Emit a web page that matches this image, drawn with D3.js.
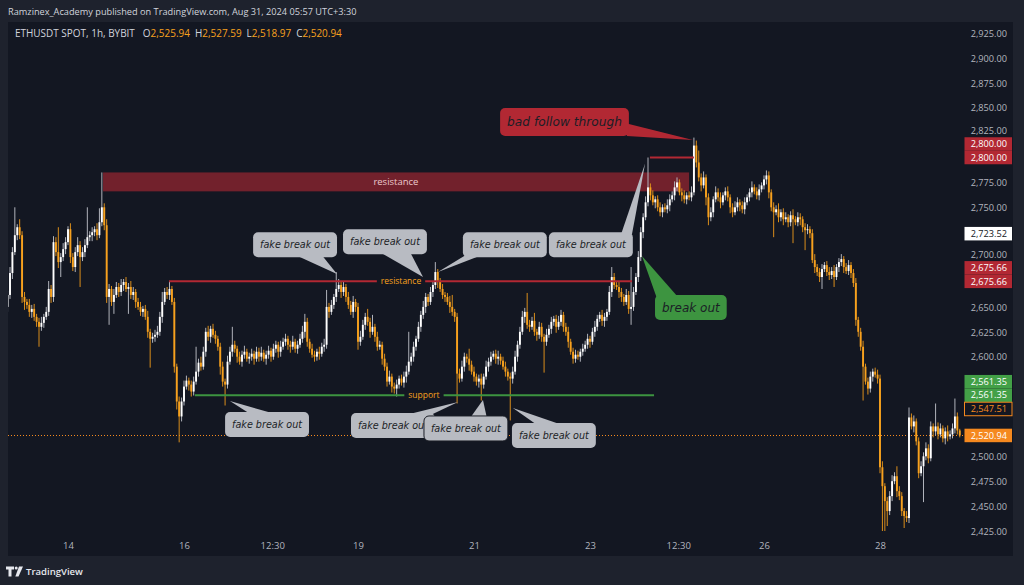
<!DOCTYPE html>
<html>
<head>
<meta charset="utf-8">
<script src="https://cdn.jsdelivr.net/npm/d3@7"></script>
<style>
  html, body { margin: 0; padding: 0; background: #1e222d; }
  svg { display: block; font-family: "Open Sans", sans-serif; }
</style>
</head>
<body>
<svg id="chart" width="1024" height="585"></svg>
<script>
const title = 'Ramzinex_Academy published on TradingView.com, Aug 31, 2024 05:57 UTC+3:30';
const symbol = 'ETHUSDT SPOT, 1h, BYBIT';
const ohlcLast = [['O', '2,525.94'], ['H', '2,527.59'], ['L', '2,518.97'], ['C', '2,520.94']];

// hourly candles, first one opens Aug 12 23:00
const firstCandle = Date.UTC(2024, 7, 12, 23);
const firstOpen = 2650;
const closes = [
  2662, 2684, 2705, 2722, 2730, 2722, 2660, 2655, 2652, 2645,
  2648, 2640, 2635, 2630, 2634, 2640, 2645, 2668, 2660, 2715,
  2705, 2695, 2700, 2708, 2715, 2728, 2700, 2690, 2705, 2712,
  2700, 2705, 2712, 2720, 2722, 2725, 2728, 2722, 2735, 2750,
  2732, 2660, 2668, 2655, 2662, 2670, 2665, 2672, 2675, 2668,
  2670, 2662, 2665, 2655, 2650, 2645, 2648, 2640, 2625, 2618,
  2620, 2622, 2625, 2640, 2655, 2665, 2662, 2668, 2655, 2590,
  2555, 2540, 2555, 2570, 2576, 2572, 2565, 2575, 2585, 2594,
  2590, 2605, 2625, 2620, 2628, 2622, 2618, 2610, 2590, 2575,
  2572, 2595, 2605, 2612, 2608, 2600, 2595, 2602, 2605, 2598,
  2600, 2603, 2598, 2605, 2600, 2604, 2598, 2602, 2606, 2600,
  2608, 2612, 2605, 2610, 2615, 2618, 2612, 2610, 2615, 2608,
  2612, 2618, 2625, 2635, 2615, 2608, 2602, 2600, 2605, 2603,
  2610, 2612, 2650, 2645, 2652, 2660, 2668, 2672, 2665, 2670,
  2660, 2652, 2645, 2655, 2650, 2615, 2620, 2632, 2640, 2635,
  2625, 2630, 2620, 2610, 2612, 2598, 2590, 2575, 2580, 2570,
  2568, 2572, 2578, 2574, 2580, 2585, 2595, 2600, 2610, 2618,
  2630, 2642, 2650, 2660, 2655, 2665, 2672, 2685, 2675, 2668,
  2662, 2660, 2655, 2650, 2645, 2640, 2583, 2578, 2590, 2600,
  2598, 2592, 2585, 2580, 2575, 2578, 2572, 2580, 2590, 2595,
  2600, 2603, 2598, 2600, 2596, 2590, 2585, 2580, 2578, 2585,
  2600, 2612, 2625, 2640, 2645, 2632, 2630, 2636, 2625, 2622,
  2630, 2620, 2615, 2622, 2628, 2635, 2638, 2630, 2635, 2642,
  2630, 2625, 2615, 2605, 2598, 2602, 2600, 2605, 2608, 2612,
  2618, 2615, 2625, 2630, 2638, 2642, 2636, 2640, 2645, 2665,
  2680, 2672, 2670, 2665, 2660, 2655, 2662, 2648, 2650, 2665,
  2680, 2700, 2725, 2740, 2755, 2770, 2762, 2755, 2758, 2750,
  2745, 2750, 2748, 2752, 2758, 2762, 2770, 2775, 2765, 2762,
  2758, 2762, 2760, 2765, 2812, 2795, 2780, 2772, 2780, 2760,
  2740, 2745, 2758, 2765, 2760, 2755, 2762, 2766, 2760, 2750,
  2745, 2750, 2755, 2752, 2748, 2755, 2760, 2765, 2770, 2766,
  2762, 2768, 2772, 2778, 2782, 2765, 2750, 2745, 2748, 2740,
  2745, 2738, 2740, 2735, 2742, 2738, 2735, 2740, 2738, 2730,
  2727, 2728, 2724, 2697, 2690, 2685, 2680, 2688, 2692, 2685,
  2682, 2686, 2680, 2690, 2695, 2698, 2690, 2686, 2692, 2684,
  2674, 2637, 2625, 2610, 2590, 2575, 2568, 2580, 2585, 2582,
  2578, 2489, 2470, 2455, 2445, 2460, 2475, 2480, 2465, 2460,
  2445, 2440, 2438, 2539, 2530, 2535, 2515, 2483, 2490, 2500,
  2508, 2498, 2530, 2525, 2530, 2522, 2528, 2518, 2525, 2520,
  2522, 2528, 2540, 2525.94, 2520.94
];
// wick length above / below the body, per candle
const upWick = [
  4, 6, 5, 28, 3, 8, 4, 5, 3, 6,   4, 5, 3, 4, 6, 3, 5, 8, 4, 6,
  5, 25, 4, 6, 5, 3, 6, 4, 5, 8,   4, 5, 6, 30, 4, 5, 3, 6, 14, 35,
  4, 6, 5, 3, 6, 5, 4, 6, 3, 5,    4, 6, 5, 3, 4, 5, 3, 4, 6, 3,
  4, 5, 6, 5, 10, 4, 5, 8, 3, 4,   3, 5, 4, 6, 5, 3, 4, 5, 25, 4,
  6, 5, 4, 6, 3, 5, 4, 3, 4, 5,    3, 6, 5, 18, 4, 3, 5, 4, 6, 3,
  4, 5, 3, 5, 4, 6, 3, 4, 5, 3,    5, 4, 3, 6, 4, 5, 3, 4, 6, 3,
  4, 5, 6, 8, 4, 3, 5, 4, 3, 5,    4, 6, 17, 4, 5, 3, 17, 6, 4, 5,
  3, 5, 4, 6, 3, 4, 6, 5, 4, 8,    4, 12, 3, 5, 4, 3, 5, 4, 6, 3,
  4, 5, 3, 4, 5, 6, 30, 4, 5, 3,   5, 4, 6, 4, 3, 5, 4, 10, 3, 4,
  5, 3, 4, 6, 12, 3, 4, 5, 6, 4,   3, 10, 4, 5, 3, 4, 5, 3, 6, 4,
  5, 3, 4, 6, 3, 4, 5, 3, 4, 5,    6, 4, 5, 6, 4, 19, 5, 4, 8, 3,
  5, 4, 3, 6, 4, 5, 3, 4, 6, 5,    3, 4, 5, 3, 4, 5, 4, 3, 5, 4,
  5, 3, 4, 6, 4, 3, 5, 4, 3, 6,    10, 4, 3, 5, 4, 3, 6, 4, 40, 5,
  4, 6, 5, 4, 6, 30, 4, 5, 3, 4,   5, 3, 4, 6, 5, 4, 6, 5, 3, 4,
  5, 3, 4, 6, 8, 5, 12, 4, 6, 3,   4, 5, 3, 6, 4, 5, 3, 4, 5, 3,
  4, 6, 5, 3, 4, 5, 3, 4, 6, 3,    4, 5, 3, 4, 5, 4, 3, 5, 4, 6,
  3, 4, 5, 3, 4, 6, 3, 5, 4, 3,    4, 5, 3, 4, 6, 3, 4, 5, 3, 4,
  5, 4, 6, 3, 4, 5, 3, 4, 5, 3,    4, 5, 3, 4, 6, 3, 4, 5, 3, 4,
  5, 4, 6, 3, 4, 5, 6, 4, 10, 5,   4, 3, 5, 10, 4, 6, 3, 4, 5, 4,
  6, 4, 5, 3, 23, 4, 5, 3, 4, 6,   4, 5, 18, 4, 1.65
];
const downWick = [
  5, 4, 6, 3, 5, 4, 6, 8, 4, 5,    6, 4, 5, 20, 4, 5, 3, 4, 6, 5,
  4, 6, 15, 4, 5, 3, 6, 4, 5, 4,   30, 4, 5, 3, 4, 6, 4, 5, 3, 4,
  5, 6, 28, 4, 12, 3, 5, 4, 6, 3,  25, 4, 5, 6, 3, 4, 5, 3, 6, 29,
  4, 5, 3, 4, 6, 3, 4, 5, 3, 6,    8, 26, 5, 4, 3, 6, 5, 4, 3, 5,
  4, 3, 5, 4, 6, 3, 5, 4, 8, 5,    21, 4, 3, 5, 4, 6, 3, 5, 4, 3,
  5, 4, 6, 3, 5, 4, 3, 6, 4, 5,    3, 4, 6, 5, 3, 4, 5, 6, 3, 4,
  5, 3, 4, 6, 5, 4, 3, 5, 4, 6,    3, 5, 4, 6, 3, 4, 5, 3, 6, 4,
  5, 4, 3, 6, 5, 8, 4, 3, 5, 4,    6, 3, 5, 4, 3, 6, 4, 5, 3, 6,
  5, 8, 4, 3, 5, 6, 3, 4, 5, 4,    3, 5, 4, 6, 4, 3, 5, 4, 6, 3,
  4, 5, 3, 6, 4, 5, 30, 4, 3, 5,   4, 6, 3, 5, 4, 6, 16, 4, 3, 5,
  4, 3, 5, 6, 4, 3, 5, 4, 42, 5,   3, 5, 4, 3, 6, 4, 5, 3, 4, 6,
  4, 5, 31, 4, 3, 5, 4, 6, 3, 4,   5, 4, 6, 3, 5, 4, 3, 5, 4, 3,
  4, 6, 3, 5, 4, 3, 5, 6, 4, 3,    5, 4, 3, 6, 5, 4, 3, 5, 16, 4,
  3, 5, 4, 6, 3, 4, 5, 3, 6, 4,    4, 5, 3, 4, 6, 3, 5, 4, 3, 6,
  4, 5, 3, 4, 3, 5, 4, 6, 3, 8,    8, 4, 5, 3, 4, 6, 3, 5, 4, 6,
  5, 3, 4, 6, 4, 5, 3, 4, 5, 3,    4, 5, 3, 4, 5, 6, 4, 25, 3, 5,
  4, 6, 3, 5, 4, 24, 3, 4, 6, 5,   20, 4, 5, 3, 6, 4, 5, 12, 3, 4,
  5, 4, 10, 3, 5, 4, 6, 3, 4, 5,   4, 6, 5, 4, 34, 3, 6, 4, 5, 3,
  5, 6, 45, 30, 15, 4, 5, 3, 6, 4, 5, 12, 4, 5, 3, 6, 4, 5, 3, 36,
  4, 5, 3, 6, 4, 5, 3, 4, 6, 5,    3, 4, 5, 4, 1.97
];

const priceTicks = [2425, 2450, 2475, 2500, 2525, 2550, 2575, 2600, 2625, 2650, 2675, 2700,
  2725, 2750, 2775, 2800, 2825, 2850, 2875, 2900, 2925];
const timeTicks = [Date.UTC(2024, 7, 14), Date.UTC(2024, 7, 16), Date.UTC(2024, 7, 17, 12, 30),
  Date.UTC(2024, 7, 19), Date.UTC(2024, 7, 21), Date.UTC(2024, 7, 23), Date.UTC(2024, 7, 24, 12, 30),
  Date.UTC(2024, 7, 26), Date.UTC(2024, 7, 28)];
const timeTickLabels = ['14', '16', '12:30', '19', '21', '23', '12:30', '26', '28'];

// labels on the price scale
const priceLabels = [
  { price: 2800.00, kind: 'red' }, { price: 2800.00, kind: 'red' },
  { price: 2723.52, kind: 'white' },
  { price: 2675.66, kind: 'red' }, { price: 2675.66, kind: 'red' },
  { price: 2561.35, kind: 'green' }, { price: 2561.35, kind: 'green' },
  { price: 2547.51, kind: 'outline' },
  { price: 2520.94, kind: 'orange' }
];

// drawings: times are hours after Aug 14 00:00
const zones = [{ label: 'resistance', from: 14.5, to: 257, lo: 2766, hi: 2785, at: 135.7 }];
const levels = [
  { price: 2675.66, from: 41.8, to: 233.4, kind: 'red', label: 'resistance', at: 137.8 },
  { price: 2561.35, from: 52.5, to: 242.5, kind: 'green', label: 'support', at: 147.3 },
  { price: 2800, from: 240.8, to: 259, kind: 'red' }
];
const callouts = [
  { text: 'fake break out', kind: 'grey', box: [76.6, 2725], tip: [111.3, 2683], edge: 'bottom', base: [0.51, 0.82] },
  { text: 'fake break out', kind: 'grey', box: [113.8, 2728], tip: [146.9, 2680], edge: 'bottom', base: [0.44, 0.8] },
  { text: 'fake break out', kind: 'grey', box: [163.4, 2725], tip: [153.1, 2685], edge: 'bottom', base: [0.03, 0.22] },
  { text: 'fake break out', kind: 'grey', box: [199, 2725], tip: [238.8, 2794], edge: 'top', base: [0.86, 0.99] },
  { text: 'break out', kind: 'green', box: [242.9, 2662], tip: [237.5, 2701], edge: 'top', base: [0.02, 0.32] },
  { text: 'bad follow through', kind: 'red', box: [178.8, 2849.7], tip: [258.6, 2817.6], edge: 'right', base: [0.55, 1] },
  { text: 'fake break out', kind: 'grey', box: [65, 2544.5], tip: [67, 2555.5], edge: 'top', base: [0.3, 0.6] },
  { text: 'fake break out', kind: 'grey', box: [117.1, 2543.5], tip: [161.4, 2554.5], edge: 'top', base: [0.65, 0.95] },
  { text: 'fake break out', kind: 'grey', box: [147.3, 2540.5], tip: [171.7, 2556.5], edge: 'top', base: [0.55, 0.75], outline: true },
  { text: 'fake break out', kind: 'grey', box: [183.7, 2533.4], tip: [184.1, 2548.5], edge: 'top', base: [0.3, 0.6] }
];

const colors = {
  bg: '#131722', frame: '#1e222d', text: '#d1d4dc', axis: '#b2b5be',
  up: '#ffffff', down: '#f7a11e', upWick: '#b0b3bb', downWick: '#d98d1b',
  red: '#b22833', green: '#3d9440', orange: '#f5891f', grey: '#b8bbc2'
};

const aug14 = Date.UTC(2024, 7, 14);
const hour = h => new Date(aug14 + h * 36e5);

const svg = d3.select('#chart');
const plot = { left: 8, top: 22, right: 964, bottom: 556 };

const x = d3.scaleUtc().domain([new Date(aug14), new Date(Date.UTC(2024, 7, 28))]).range([68, 880]);
const y = d3.scaleLinear().domain([2425, 2925]).range([531, 33]);

function fitWidth(sel, width) {
  let w = sel.node().getComputedTextLength();
  let fs = parseFloat(sel.attr('font-size'));
  sel.attr('font-size', fs * width / w);
}

// frame and panel
svg.append('rect').attr('width', 1024).attr('height', 585).attr('fill', colors.frame);
svg.append('rect')
  .attr('x', plot.left).attr('y', plot.top)
  .attr('width', 1013 - plot.left).attr('height', plot.bottom - plot.top)
  .attr('fill', colors.bg);

let titleText = svg.append('text')
  .attr('x', 8).attr('y', 12).attr('dy', '0.35em')
  .attr('font-size', 10).attr('fill', colors.text)
  .text(title);
fitWidth(titleText, 349);

svg.append('defs').append('clipPath').attr('id', 'plot-clip')
  .append('rect')
    .attr('x', plot.left).attr('y', plot.top)
    .attr('width', plot.right - plot.left).attr('height', plot.bottom - plot.top);

// candles
let candles = closes.map((c, i) => {
  let o = i === 0 ? firstOpen : closes[i - 1];
  return {
    t: new Date(firstCandle + i * 36e5),
    o: o,
    c: c,
    h: Math.max(o, c) + upWick[i],
    l: Math.min(o, c) - downWick[i]
  };
});

let lastClose = closes[closes.length - 1];

let chart = svg.append('g').attr('clip-path', 'url(#plot-clip)');

// resistance zone
zones.forEach(z => {
  chart.append('rect')
    .attr('x', x(hour(z.from))).attr('y', y(z.hi))
    .attr('width', x(hour(z.to)) - x(hour(z.from)))
    .attr('height', y(z.lo) - y(z.hi))
    .attr('fill', colors.red).attr('opacity', 0.6);
  chart.append('text')
    .attr('x', x(hour(z.at))).attr('y', (y(z.lo) + y(z.hi)) / 2).attr('dy', '0.35em')
    .attr('text-anchor', 'middle').attr('font-size', 9.5).attr('fill', '#ecc9cc')
    .text(z.label);
});

// last price line, snapped to a pixel row so the dots stay crisp
let lastY = Math.round(y(lastClose)) + 0.5;
chart.append('line')
  .attr('x1', plot.left).attr('x2', plot.right)
  .attr('y1', lastY).attr('y2', lastY)
  .attr('stroke', colors.orange).attr('stroke-width', 1).attr('stroke-dasharray', '1,2');

let barW = 1.9;
chart.append('g').selectAll('line')
  .data(candles)
  .join('line')
    .attr('x1', d => x(d.t)).attr('x2', d => x(d.t))
    .attr('y1', d => y(d.h)).attr('y2', d => y(d.l))
    .attr('stroke', d => d.c >= d.o ? colors.upWick : colors.downWick)
    .attr('stroke-width', 1);

chart.append('g').selectAll('rect')
  .data(candles)
  .join('rect')
    .attr('x', d => x(d.t) - barW / 2)
    .attr('width', barW)
    .attr('y', d => y(Math.max(d.o, d.c)))
    .attr('height', d => Math.max(1, Math.abs(y(d.o) - y(d.c))))
    .attr('fill', d => d.c >= d.o ? colors.up : colors.down);

// horizontal levels
levels.forEach(lv => {
  let yy = y(lv.price);
  let x1 = x(hour(lv.from)), x2 = x(hour(lv.to));
  let col = lv.kind === 'red' ? colors.red : colors.green;
  if (!lv.label) {
    chart.append('line').attr('x1', x1).attr('x2', x2).attr('y1', yy).attr('y2', yy)
      .attr('stroke', col).attr('stroke-width', 2);
    return;
  }
  let label = chart.append('text')
    .attr('x', x(hour(lv.at))).attr('y', yy).attr('dy', '0.35em')
    .attr('text-anchor', 'middle').attr('font-size', 8.5).attr('fill', colors.down)
    .text(lv.label);
  let half = label.node().getComputedTextLength() / 2 + 4;
  let cx = x(hour(lv.at));
  chart.append('line').attr('x1', x1).attr('x2', cx - half).attr('y1', yy).attr('y2', yy)
    .attr('stroke', col).attr('stroke-width', 2);
  chart.append('line').attr('x1', cx + half).attr('x2', x2).attr('y1', yy).attr('y2', yy)
    .attr('stroke', col).attr('stroke-width', 2);
});

// callouts
let boxStyle = {
  grey: { fill: colors.grey, size: 9.6, h: 25 },
  red: { fill: colors.red, size: 12.2, h: 28 },
  green: { fill: colors.green, size: 12, h: 25 }
};

callouts.forEach(c => {
  let st = boxStyle[c.kind];
  let g = chart.append('g');
  let label = g.append('text')
    .attr('font-family', '"DejaVu Sans", sans-serif')
    .attr('font-style', 'italic')
    .attr('font-size', st.size)
    .attr('fill', '#1b1e26')
    .attr('text-anchor', 'middle')
    .text(c.text);
  let w = label.node().getComputedTextLength() + 14;
  let h = st.h;
  let bx = x(hour(c.box[0])), by = y(c.box[1]);
  let tip = [x(hour(c.tip[0])), y(c.tip[1])];
  let [f1, f2] = c.base;
  let b1, b2;
  if (c.edge === 'bottom') {
    b1 = [bx + w * f1, by + h - 2]; b2 = [bx + w * f2, by + h - 2];
  } else if (c.edge === 'top') {
    b1 = [bx + w * f1, by + 2]; b2 = [bx + w * f2, by + 2];
  } else {
    b1 = [bx + w - 2, by + h * f1]; b2 = [bx + w - 2, by + h * f2];
  }
  g.insert('path', 'text')
    .attr('d', d3.line()([b1, tip, b2]) + 'Z')
    .attr('fill', st.fill);
  g.insert('rect', 'text')
    .attr('x', bx).attr('y', by).attr('width', w).attr('height', h)
    .attr('rx', 5)
    .attr('fill', st.fill)
    .attr('stroke', c.outline ? '#1b1e26' : 'none')
    .attr('stroke-width', 1);
  label.attr('x', bx + w / 2).attr('y', by + h / 2).attr('dy', '0.35em');
});

// header inside the chart
let header = svg.append('text')
  .attr('x', 15).attr('y', 34).attr('dy', '0.35em')
  .attr('font-size', 10).attr('fill', colors.text);
header.append('tspan').text(symbol);
ohlcLast.forEach((d, i) => {
  header.append('tspan').attr('dx', i === 0 ? 8 : 5).text(d[0]);
  header.append('tspan').attr('fill', colors.down).text(d[1]);
});
fitWidth(header, 304);

// price scale labels, stacked upwards when they share a price
let labelH = 13.5;
let labelCenters = priceLabels.map((d, i) => {
  let after = priceLabels.slice(i + 1).filter(e => e.price === d.price).length;
  return y(d.price) - after * labelH;
});

// price axis; tick labels hidden behind a price label are dropped,
// ones just above a label are nudged up so they do not touch it
let yAxis = d3.axisRight(y)
  .tickValues(priceTicks)
  .tickSize(0)
  .tickPadding(0)
  .tickFormat(d3.format(',.2f'));

svg.append('g')
  .attr('transform', 'translate(1007,0)')
  .call(yAxis)
  .call(g => g.select('.domain').remove())
  .call(g => g.selectAll('.tick')
    .filter(d => labelCenters.some(cy => Math.abs(cy - y(d)) < 10))
    .remove())
  .call(g => g.selectAll('text')
    .attr('x', 0).attr('dy', '0.35em')
    .attr('y', d => labelCenters.some(cy => cy - y(d) >= 10 && cy - y(d) < 14) ? -2.5 : 0)
    .attr('text-anchor', 'end')
    .attr('fill', colors.axis)
    .attr('font-size', 9.2)
    .attr('font-family', '"Open Sans", sans-serif'));

// time axis
let xAxis = d3.axisBottom(x)
  .tickValues(timeTicks.map(t => new Date(t)))
  .tickSize(0)
  .tickPadding(0)
  .tickFormat((d, i) => timeTickLabels[i]);

svg.append('g')
  .attr('transform', 'translate(0,546)')
  .call(xAxis)
  .call(g => g.select('.domain').remove())
  .call(g => g.selectAll('text')
    .attr('y', 0).attr('dy', '0.35em')
    .attr('fill', colors.axis)
    .attr('font-size', 9.5)
    .attr('font-family', '"Open Sans", sans-serif'));

let labelStyle = {
  red: { fill: colors.red, stroke: 'none', text: '#ffffff' },
  green: { fill: '#43a047', stroke: 'none', text: '#ffffff' },
  white: { fill: '#ffffff', stroke: 'none', text: '#131722' },
  outline: { fill: colors.bg, stroke: colors.orange, text: colors.orange },
  orange: { fill: colors.orange, stroke: 'none', text: '#ffffff' }
};
let fmt = d3.format(',.2f');
priceLabels.forEach((d, i) => {
  let cy = labelCenters[i];
  let st = labelStyle[d.kind];
  svg.append('rect')
    .attr('x', 964.5).attr('y', cy - labelH / 2)
    .attr('width', 47.5).attr('height', labelH)
    .attr('fill', st.fill).attr('stroke', st.stroke).attr('stroke-width', 1);
  svg.append('text')
    .attr('x', 1007).attr('y', cy).attr('dy', '0.35em')
    .attr('text-anchor', 'end').attr('font-size', 9.2)
    .attr('fill', st.text)
    .text(fmt(d.price));
});

// footer
let logo = svg.append('g').attr('fill', '#e6e8ee');
logo.append('path').attr('d', 'M6,566.5 h8 v3 h-2.5 v7 h-3 v-7 h-2.5 z');
logo.append('circle').attr('cx', 16.2).attr('cy', 568).attr('r', 1.5);
logo.append('path').attr('d', 'M19,566.5 h4 l-4.5,10 h-3.2 z');
let footer = svg.append('text')
  .attr('x', 26).attr('y', 571.5).attr('dy', '0.35em')
  .attr('font-size', 11).attr('font-weight', 600).attr('fill', '#e6e8ee')
  .text('TradingView');
fitWidth(footer, 57);
</script>
</body>
</html>
